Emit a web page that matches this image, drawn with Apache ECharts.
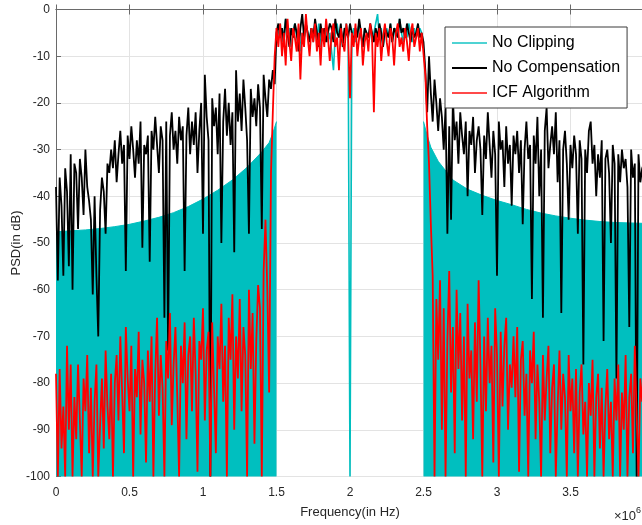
<!DOCTYPE html>
<html>
<head>
<meta charset="utf-8">
<script src="https://cdn.jsdelivr.net/npm/echarts@6/dist/echarts.min.js"></script>
<style>html,body{margin:0;padding:0;background:#fff}#c{width:642px;height:525px}</style>
</head>
<body>
<div id="c"></div>
<script>
// Frequency grid (Hz) shared by the noisy PSD traces
const FREQ_STEP = 12500;          // sample spacing of the traces
const BAND_START_INDEX = 120;     // 1.5 MHz
const xTickLabels = ['0','0.5','1','1.5','2','2.5','3','3.5'];
const legendNames = ['No Clipping','No Compensation','ICF Algorithm'];

// No Compensation (black), 321 samples from 0 to 4 MHz
const noCompensation = [
-38,-58,-36,-42,-57,-34,-39,-55,-31,-60,
-33,-35,-47,-32,-36,-44,-30,-38,-41,-45,
-61,-40,-57,-70,-43,-36,-39,-48,-33,-35,
-30,-34,-28,-37,-31,-26,-33,-29,-56,-27,
-32,-25,-30,-36,-28,-33,-24,-51,-29,-31,
-27,-54,-26,-30,-23,-29,-35,-25,-28,-66,
-24,-73,-27,-22,-30,-26,-33,-23,-28,-25,
-56,-27,-21,-31,-24,-29,-22,-35,-26,-20,
-48,-14,-23,-28,-100,-19,-25,-21,-31,-18,
-50,-24,-17,-27,-20,-29,-22,-52,-13,-24,
-18,-26,-15,-21,-28,-48,-17,-23,-19,-25,
-16,-21,-47,-14,-19,-23,-15,-17,-13,-16,
-5,-3,-6,-4,-7,-2,-5,-8,-4,-6,
-3,-5,-9,-4,-1,-6,-3,-5,-7,-4,
-6,-2,-5,-8,-3,-6,-4,-7,-5,-3,
-4,-7,-2,-5,-6,-3,-8,-4,-5,-6,
-3,-5,-7,-4,-6,-2,-5,-8,-4,-5,
-6,-3,-5,-7,-4,-6,-3,-5,-8,-4,
-5,-6,-3,-7,-4,-5,-6,-2,-5,-4,
-6,-3,-5,-7,-4,-6,-5,-3,-6,-5,
-7,-13,-22,-10,-18,-24,-15,-20,-26,-19,
-23,-30,-21,-48,-25,-45,-19,-28,-24,-33,
-22,-27,-31,-24,-40,-26,-29,-23,-35,-28,
-25,-30,-44,-27,-32,-22,-29,-36,-26,-31,
-57,-24,-30,-28,-38,-25,-33,-29,-42,-27,
-31,-26,-35,-28,-46,-30,-24,-32,-29,-62,
-27,-33,-23,-40,-30,-66,-26,-21,-34,-29,
-25,-31,-22,-37,-28,-65,-30,-26,-33,-45,
-29,-34,-27,-31,-48,-28,-32,-76,-30,-35,
-26,-24,-33,-29,-40,-31,-36,-28,-71,-32,
-30,-35,-50,-29,-33,-79,-31,-37,-30,-34,
-32,-38,-68,-30,-36,-33,-100,-31,-37,-34,
-33
];

// ICF Algorithm (red), 321 samples from 0 to 4 MHz
const icfAlgorithm = [
-78,-100,-77,-94,-85,-100,-72,-90,-76,-100,
-83,-92,-76,-88,-100,-79,-86,-74,-95,-81,
-100,-84,-76,-100,-89,-79,-94,-73,-85,-92,
-78,-100,-80,-74,-88,-70,-82,-95,-68,-79,
-86,-72,-100,-77,-83,-69,-91,-75,-80,-97,
-73,-84,-70,-100,-78,-66,-87,-74,-81,-100,
-71,-79,-65,-89,-76,-68,-83,-100,-72,-80,
-67,-92,-74,-70,-86,-66,-78,-99,-71,-75,
-64,-88,-73,-69,-100,-67,-81,-95,-70,-77,
-63,-84,-72,-100,-66,-75,-61,-90,-70,-79,
-62,-86,-68,-74,-100,-60,-77,-65,-93,-71,
-59,-64,-100,-56,-45,-60,-82,-35,-22,-10,
-4,-8,-3,-10,-5,-12,-2,-7,-11,-4,
-6,-9,-3,-15,-5,-8,-1,-6,-10,-4,
-7,-3,-9,-5,-12,-4,-8,-2,-6,-11,
-5,-3,-8,-6,-13,-4,-7,-9,-3,-6,
-19,-5,-8,-3,-10,-6,-4,-12,-7,-5,
-9,-3,-6,-22,-5,-8,-4,-11,-6,-3,
-7,-10,-4,-6,-12,-5,-3,-8,-6,-9,
-4,-7,-11,-5,-3,-8,-6,-4,-9,-5,
-5,-14,-25,-33,-46,-57,-100,-62,-75,-58,
-90,-64,-100,-71,-56,-82,-68,-95,-60,-77,
-65,-88,-70,-100,-63,-79,-73,-92,-67,-84,
-58,-76,-100,-70,-86,-66,-80,-72,-97,-64,
-74,-100,-69,-85,-72,-66,-90,-76,-81,-70,
-83,-68,-99,-75,-71,-87,-78,-100,-73,-80,
-69,-92,-76,-84,-100,-74,-88,-79,-72,-95,
-81,-76,-100,-85,-73,-90,-78,-83,-100,-74,
-86,-79,-95,-77,-100,-82,-76,-91,-84,-100,
-80,-87,-75,-100,-83,-78,-94,-81,-100,-85,
-77,-92,-84,-100,-79,-88,-76,-100,-82,-90,
-74,-100,-83,-78,-95,-72,-87,-100,-79,-84,
-76
];

// No Clipping (cyan) in-band trace, 80 samples from 1.5 MHz
const noClippingBand = [
-4,-6,-3,-7,-5,-2,-6,-4,-8,-5,
-3,-6,-4,-9,-5,-7,-3,-5,-6,-4,
-7,-4,-6,-3,-8,-5,-6,-4,-7,-5,
-9,-13,-5,-3,-6,-4,-7,-5,-3,-6,
-100,-6,-4,-7,-5,-3,-6,-8,-4,-5,
-6,-4,-7,-5,-3,-1,-6,-4,-8,-5,
-4,-6,-3,-7,-5,-4,-6,-2,-5,-7,
-4,-6,-3,-5,-7,-4,-6,-5,-4,-5
];

// No Clipping out-of-band envelope (filled region below it)
const envLeftFreqMHz = [0,0.1,0.2,0.3,0.4,0.5,0.6,0.7,0.8,0.9,1.0,1.1,1.2,1.3,1.4,1.45,1.475,1.5];
const envLeft = [-47.6,-47.4,-47.2,-46.9,-46.5,-46.0,-45.3,-44.5,-43.5,-42.2,-40.6,-38.7,-36.5,-33.8,-30.5,-28.5,-26.5,-24];
const envRightFreqMHz = [2.5,2.525,2.55,2.6,2.7,2.8,2.9,3.0,3.1,3.2,3.3,3.4,3.5,3.6,3.7,3.8,3.9,4.0];
const envRight = [-24,-27,-29.5,-32.5,-36.5,-38.5,-39.8,-40.9,-41.8,-42.8,-43.6,-44.2,-44.7,-45.1,-45.4,-45.6,-45.7,-45.8];

const CYAN = '#00BFBF';
const FONT = '"Liberation Sans", Arial, Helvetica, sans-serif';
const toXY = (arr, offset) => arr.map((v, i) => [(i + offset) * FREQ_STEP, v]);
const envXY = (fs, vs) => fs.map((f, i) => [f * 1e6, vs[i]]);

const chart = echarts.init(document.getElementById('c'), null, {renderer: 'canvas'});
const xCommon = {
  type: 'value', min: 0, max: 4e6, interval: 5e5,
  axisLine: {show: true, lineStyle: {color: '#6a6a6a', width: 1}},
  axisTick: {show: true, inside: true, length: 5, lineStyle: {color: '#6a6a6a'}},
};
chart.setOption({
  animation: false,
  backgroundColor: '#fff',
  grid: {left: 56, top: 9.5, width: 588, height: 467, containLabel: false, outerBoundsMode: 'none'},
  xAxis: [
    Object.assign({}, xCommon, {
      position: 'bottom',
      name: 'Frequency(in Hz)', nameLocation: 'middle', nameGap: 29, nameMoveOverlap: false,
      nameTextStyle: {fontSize: 13, color: '#262626', fontFamily: FONT},
      axisLabel: {
        margin: 10, fontSize: 12, color: '#262626', fontFamily: FONT, showMaxLabel: false,
        formatter: v => { const k = Math.round(v / 5e5); return k < xTickLabels.length ? xTickLabels[k] : ''; }
      },
      splitLine: {show: true, lineStyle: {color: '#e3e3e3', width: 1}}
    }),
    Object.assign({}, xCommon, {
      position: 'top', axisLabel: {show: false}, splitLine: {show: false}
    })
  ],
  yAxis: {
    type: 'value', min: -100, max: 0, interval: 10,
    name: 'PSD(in dB)', nameLocation: 'middle', nameGap: 33, nameRotate: 90, nameMoveOverlap: false,
    nameTextStyle: {fontSize: 13, color: '#262626', fontFamily: FONT},
    axisLine: {show: true, lineStyle: {color: '#6a6a6a', width: 1}},
    axisTick: {show: true, inside: true, length: 5, lineStyle: {color: '#6a6a6a'}},
    axisLabel: {margin: 6, fontSize: 12, color: '#262626', fontFamily: FONT},
    splitLine: {show: true, lineStyle: {color: '#e3e3e3', width: 1}}
  },
  legend: {
    orient: 'vertical', left: 445, top: 27,
    padding: [6, 7, 5, 7], itemGap: 5, itemWidth: 35, itemHeight: 2,
    backgroundColor: '#fff', borderColor: '#3a3a3a', borderWidth: 1, borderRadius: 0,
    textStyle: {fontSize: 16, lineHeight: 20, color: '#000', fontFamily: FONT},
    data: [
      {name: legendNames[0], icon: 'rect', itemStyle: {color: '#4fd3d3'}},
      {name: legendNames[1], icon: 'rect', itemStyle: {color: '#000'}},
      {name: legendNames[2], icon: 'rect', itemStyle: {color: '#ff4a4a'}}
    ]
  },
  graphic: [{
    type: 'text', left: 614, top: 506, silent: true,
    style: {
      text: '{a|×10}{b|6}', fill: '#262626',
      rich: {a: {fontSize: 13, fontFamily: FONT, verticalAlign: 'bottom'},
             b: {fontSize: 9, fontFamily: FONT, verticalAlign: 'top', padding: [0,0,8,0]}}
    }
  }],
  series: [
    {name: legendNames[0], type: 'line', showSymbol: false, symbol: 'none', z: 2,
     data: toXY(noClippingBand, BAND_START_INDEX),
     lineStyle: {color: CYAN, width: 1.6}, itemStyle: {color: CYAN}},
    {name: legendNames[0], type: 'line', showSymbol: false, symbol: 'none', z: 2,
     data: envXY(envLeftFreqMHz, envLeft),
     lineStyle: {color: CYAN, width: 1}, itemStyle: {color: CYAN},
     areaStyle: {color: CYAN, opacity: 1, origin: 'start'}},
    {name: legendNames[0], type: 'line', showSymbol: false, symbol: 'none', z: 2,
     data: envXY(envRightFreqMHz, envRight),
     lineStyle: {color: CYAN, width: 1}, itemStyle: {color: CYAN},
     areaStyle: {color: CYAN, opacity: 1, origin: 'start'}},
    {name: legendNames[1], type: 'line', showSymbol: false, symbol: 'none', z: 3,
     data: toXY(noCompensation, 0),
     lineStyle: {color: '#000', width: 1.8}, itemStyle: {color: '#000'}},
    {name: legendNames[2], type: 'line', showSymbol: false, symbol: 'none', z: 4,
     data: toXY(icfAlgorithm, 0),
     lineStyle: {color: '#ff0000', width: 1.8}, itemStyle: {color: '#ff0000'}}
  ]
});
</script>
</body>
</html>
